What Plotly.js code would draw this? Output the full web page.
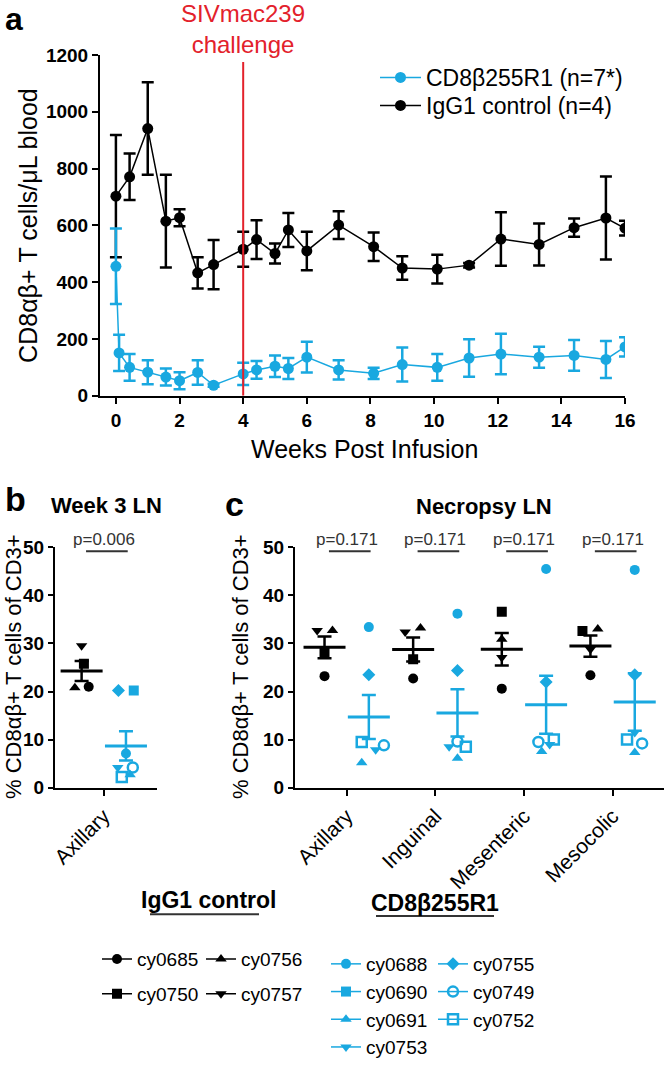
<!DOCTYPE html>
<html>
<head>
<meta charset="utf-8">
<script src="https://cdn.plot.ly/plotly-3.0.1.min.js"></script>
<style>html,body{margin:0;padding:0;background:#fff}</style>
</head>
<body>
<div id="fig" style="width:666px;height:1066px"></div>
<script>
// ---- panel a: absolute counts in blood ----
const weeksCtl = [0, 0.43, 1, 1.57, 2, 2.57, 3.07, 4, 4.42, 5, 5.42, 6, 7, 8.1, 9, 10.1, 11.1, 12.1, 13.3, 14.4, 15.4, 16]
const countCtl = [703, 771, 941, 615, 627, 433, 462, 516, 550, 501, 584, 510, 601, 525, 450, 446, 460, 552, 533, 592, 626, 590]
const semCtl   = [215, 82, 163, 163, 30, 55, 87, 62, 68, 35, 60, 68, 49, 50, 41, 51, 8, 94, 74, 32, 146, 26]

const weeksDep = [0, 0.1, 0.43, 1, 1.57, 2, 2.57, 3.07, 4, 4.42, 5, 5.42, 6, 7, 8.1, 9, 10.1, 11.1, 12.1, 13.3, 14.4, 15.4, 16]
const countDep = [456, 151, 100, 83, 66, 53, 82, 37, 77, 91, 104, 96, 136, 91, 79, 110, 100, 133, 147, 136, 142, 128, 172]
const semDep   = [133, 64, 47, 42, 30, 30, 43, 5, 39, 31, 38, 37, 54, 34, 20, 60, 47, 66, 71, 37, 54, 65, 34]

const challengeWeek = 4
const weekTicks = [0, 2, 4, 6, 8, 10, 12, 14, 16]

// ---- panels b and c: % of CD3+ in lymph nodes ----
const nodeNames = ['Axillary', 'Inguinal', 'Mesenteric', 'Mesocolic']

const ctlIds = ['cy0685', 'cy0756', 'cy0750', 'cy0757']
const ctlWk3 = [21.0, 20.8, 25.8, 29.5]
const ctlWk3Jit = [0.08, -0.076, 0.026, 0]
const ctlNec = [
  [23.2, 22.7, 20.6, 23.4],
  [32.7, 33.2, 30.9, 33.0],
  [28.2, 26.7, 36.6, 32.6],
  [32.7, 32.4, 27.1, 28.8]
]
const ctlNecJit = [
  [0, 0, 0, 0],
  [0.09, 0.083, 0, 0.083],
  [0, 0, 0, -0.09],
  [-0.083, -0.09, 0, 0]
]

const depIds = ['cy0688', 'cy0690', 'cy0691', 'cy0753', 'cy0755', 'cy0749', 'cy0752']
const depWk3 = [7.1, 20.2, 2.7, 4.2, 20.2, 4.2, 2.2]
const depWk3Jit = [0, 0.088, 0.047, -0.092, -0.085, 0.077, -0.047]
const depNec = [
  [33.4, 36.2, 45.5, 45.3],
  [null, null, null, null],
  [5.2, 6.1, 7.5, 7.3],
  [7.9, 8.5, 9.0, 11.5],
  [23.5, 24.4, 22.0, 23.5],
  [8.8, 9.6, 9.5, 9.2],
  [9.5, 8.5, 10.0, 10.0]
]
const depNecJit = [
  [0, 0, 0, 0],
  [0, 0, 0, 0],
  [-0.08, 0, -0.05, 0],
  [0.077, -0.094, 0.04, 0],
  [0, 0, 0, 0],
  [0.17, 0, -0.087, 0.083],
  [-0.08, 0.094, 0.087, -0.087]
]

const pWk3 = 'p=0.006'
const pNec = ['p=0.171', 'p=0.171', 'p=0.171', 'p=0.171']

// ---- styles ----
const CYAN = '#19a8e0'
const BLACK = '#000000'
const RED = '#e3212b'
const FONT = 'Liberation Sans, Arial, sans-serif'
const ctlSymbols = ['circle', 'triangle-up', 'square', 'triangle-down']
const depSymbols = ['circle', 'square', 'triangle-up', 'triangle-down', 'diamond', 'circle-open', 'square-open']
const ctlLegends = ['legend2', 'legend3', 'legend2', 'legend3']
const depLegends = ['legend4', 'legend4', 'legend4', 'legend4', 'legend5', 'legend5', 'legend5']

function mean(a){
    const v = a.filter(d => d !== null)
    return v.reduce((s, d) => s + d, 0) / v.length
}
function sem(a){
    const v = a.filter(d => d !== null)
    const m = mean(v)
    const sd = Math.sqrt(v.reduce((s, d) => s + (d - m) * (d - m), 0) / (v.length - 1))
    return sd / Math.sqrt(v.length)
}
function column(rows, i){ return rows.map(r => r[i]) }

const H = 1066, W = 666
const px = x => x / W
const py = y => 1 - y / H

let traces = []

// panel a
traces.push({
    name: 'IgG1 control (n=4)', x: weeksCtl, y: countCtl, xaxis: 'x', yaxis: 'y',
    mode: 'lines+markers', type: 'scatter', legend: 'legend6',
    line: {color: BLACK, width: 1.5},
    marker: {color: BLACK, size: 11},
    error_y: {type: 'data', array: semCtl, color: BLACK, thickness: 2.5, width: 6}
})
traces.push({
    name: 'CD8β255R1 (n=7*)', x: weeksDep, y: countDep, xaxis: 'x', yaxis: 'y',
    mode: 'lines+markers', type: 'scatter', legend: 'legend',
    line: {color: CYAN, width: 1.5},
    marker: {color: CYAN, size: 11},
    error_y: {type: 'data', array: semDep, color: CYAN, thickness: 2.5, width: 6}
})

// panel b + c individual animals
function addAnimal(id, sym, color, legend, off, wk3, wk3Jit, nec, necJit){
    const open = sym.indexOf('open') >= 0
    const marker = {
        symbol: sym, size: 10, color: color,
        line: {color: color, width: open ? 2.5 : 0}
    }
    traces.push({
        name: id, x: [off + wk3Jit], y: [wk3], xaxis: 'x2', yaxis: 'y2',
        mode: 'lines+markers', type: 'scatter', legend: legend, legendgroup: id,
        line: {color: color, width: 1.5}, marker: marker
    })
    traces.push({
        name: id, x: nec.map((v, i) => i + off + necJit[i]), y: nec, xaxis: 'x3', yaxis: 'y3',
        mode: 'markers', type: 'scatter', showlegend: false, marker: marker
    })
}
ctlIds.forEach((id, k) => addAnimal(id, ctlSymbols[k], BLACK, ctlLegends[k], -0.25,
    ctlWk3[k], ctlWk3Jit[k], ctlNec[k], ctlNecJit[k]))
depIds.forEach((id, k) => addAnimal(id, depSymbols[k], CYAN, depLegends[k], 0.25,
    depWk3[k], depWk3Jit[k], depNec[k], depNecJit[k]))

// mean +/- SEM bars
function addMean(xs, ys, errs, color, xa, ya){
    traces.push({
        x: xs, y: ys, xaxis: xa, yaxis: ya, type: 'scatter', mode: 'markers', showlegend: false,
        marker: {symbol: 'line-ew', size: 30, color: color, line: {color: color, width: 3}},
        error_y: {type: 'data', array: errs, color: color, thickness: 2.5, width: 7}
    })
}
addMean([-0.25], [mean(ctlWk3)], [sem(ctlWk3)], BLACK, 'x2', 'y2')
addMean([0.25], [mean(depWk3)], [sem(depWk3)], CYAN, 'x2', 'y2')
const ctlCols = nodeNames.map((n, i) => column(ctlNec, i))
const depCols = nodeNames.map((n, i) => column(depNec, i))
addMean(nodeNames.map((n, i) => i - 0.25), ctlCols.map(mean), ctlCols.map(sem), BLACK, 'x3', 'y3')
addMean(nodeNames.map((n, i) => i + 0.25), depCols.map(mean), depCols.map(sem), CYAN, 'x3', 'y3')

const axisBase = {
    showline: true, linecolor: BLACK, linewidth: 2, ticks: 'outside', ticklen: 6, tickwidth: 2,
    tickcolor: BLACK, showgrid: false, zeroline: false, fixedrange: true
}
const boldTick = {family: FONT, size: 19, color: BLACK, weight: 'bold'}

function ann(text, x, y, size, extra){
    return Object.assign({text: text, x: px(x), y: py(y), xref: 'paper', yref: 'paper',
        showarrow: false, xanchor: 'center', yanchor: 'middle',
        font: {family: FONT, size: size, color: BLACK}}, extra || {})
}

let annotations = [
    ann('<b>a</b>', 14, 20, 32),
    ann('<b>b</b>', 15, 517, 34),
    ann('<b>c</b>', 234, 522, 34),
    ann('CD8αβ+ T cells/μL blood', 28, 234, 25, {textangle: -90}),
    ann('Weeks Post Infusion', 364, 465, 25),
    ann('<b>Week 3 LN</b>', 107, 524, 22),
    ann('<b>Necropsy LN</b>', 484, 525, 22),
    ann('% CD8αβ+ T cells of CD3+', 13, 691, 22, {textangle: -90}),
    ann('% CD8αβ+ T cells of CD3+', 240, 691, 22, {textangle: -90}),
    ann('<b>IgG1 control</b>', 208, 932, 23),
    ann('<b>CD8β255R1</b>', 435, 935, 23),
    {text: 'SIVmac239<br>challenge', x: challengeWeek, xref: 'x', y: py(30), yref: 'paper',
     showarrow: false, xanchor: 'center', yanchor: 'middle', font: {family: FONT, size: 24, color: RED}},
    {text: pWk3, x: 0, xref: 'x2', y: py(559), yref: 'paper', showarrow: false,
     font: {family: FONT, size: 17, color: '#333'}}
]
pNec.forEach((p, i) => annotations.push({text: p, x: i, xref: 'x3', y: py(559), yref: 'paper',
    showarrow: false, font: {family: FONT, size: 17, color: '#333'}}))

let shapes = [
    {type: 'line', xref: 'x', yref: 'y', x0: challengeWeek, x1: challengeWeek, y0: 0, y1: 1175,
     line: {color: RED, width: 2}},
    {type: 'line', xref: 'x2', yref: 'paper', x0: -0.2, x1: 0.27, y0: py(571), y1: py(571),
     line: {color: '#333', width: 2}},
    {type: 'line', xref: 'paper', yref: 'paper', x0: px(150), x1: px(259), y0: py(947), y1: py(947),
     line: {color: '#333', width: 2}},
    {type: 'line', xref: 'paper', yref: 'paper', x0: px(376), x1: px(494), y0: py(949), y1: py(949),
     line: {color: '#333', width: 2}}
]
pNec.forEach((p, i) => shapes.push({type: 'line', xref: 'x3', yref: 'paper', x0: i - 0.2, x1: i + 0.27,
    y0: py(571), y1: py(571), line: {color: '#333', width: 2}}))

function legendAt(x, y, size, gap, iw){
    return {x: px(x), y: py(y), xanchor: 'left', yanchor: 'top', bgcolor: 'rgba(0,0,0,0)',
        font: {family: FONT, size: size, color: BLACK}, itemwidth: iw || 30, tracegroupgap: gap}
}

const layout = {
    width: W, height: H, margin: {l: 0, r: 0, t: 0, b: 0},
    paper_bgcolor: '#fff', plot_bgcolor: 'rgba(0,0,0,0)',
    font: {family: FONT, color: BLACK},
    xaxis: Object.assign({}, axisBase, {domain: [px(100), px(625)], range: [-0.5, 16],
        tickvals: weekTicks, tickfont: boldTick, anchor: 'y'}),
    yaxis: Object.assign({}, axisBase, {domain: [py(410), py(57)], range: [0, 1200], dtick: 200,
        tickfont: boldTick, anchor: 'x'}),
    xaxis2: Object.assign({}, axisBase, {domain: [px(55), px(157)], range: [-0.55, 0.6],
        tickvals: [0], ticktext: [nodeNames[0]], tickangle: -45,
        tickfont: {family: FONT, size: 21, color: BLACK}, anchor: 'y2'}),
    yaxis2: Object.assign({}, axisBase, {domain: [py(816), py(567)], range: [0, 50], dtick: 10,
        ticklen: 5, tickfont: boldTick, anchor: 'x2'}),
    xaxis3: Object.assign({}, axisBase, {domain: [px(295), px(664)], range: [-0.583, 3.58],
        tickvals: nodeNames.map((n, i) => i), ticktext: nodeNames, tickangle: -45,
        tickfont: {family: FONT, size: 21, color: BLACK}, anchor: 'y3'}),
    yaxis3: Object.assign({}, axisBase, {domain: [py(816), py(567)], range: [0, 50], dtick: 10,
        ticklen: 5, tickfont: boldTick, anchor: 'x3'}),
    showlegend: true,
    legend: legendAt(375, 58, 23, 0, 41),
    legend6: legendAt(375, 87, 23, 0, 41),
    legend2: legendAt(97, 974, 19, 7),
    legend3: legendAt(201, 974, 19, 7),
    legend4: legendAt(326, 979, 19, 0),
    legend5: legendAt(433, 979, 19, 0),
    annotations: annotations,
    shapes: shapes
}

Plotly.newPlot('fig', traces, layout, {staticPlot: true})
</script>
</body>
</html>
